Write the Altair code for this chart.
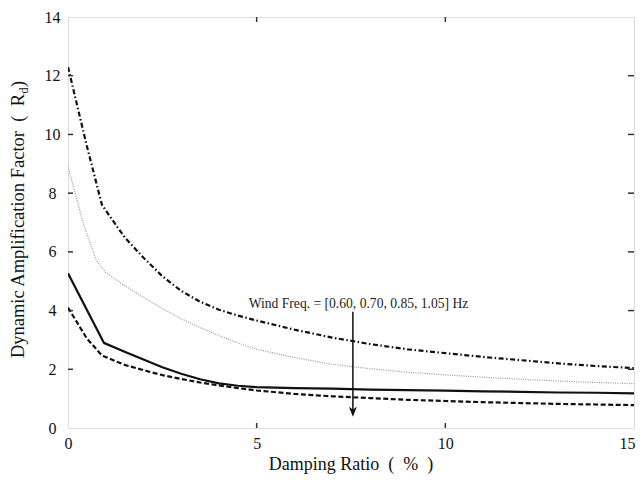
import altair as alt
import pandas as pd

# Damping ratio (%) and dynamic amplification factor for each wind frequency
x_060 = [0, 0.5, 0.9, 1.25, 1.5, 2, 2.5, 3, 3.5, 4, 4.5, 5, 6, 7, 8, 9, 10, 11, 12, 13, 14, 15]
y_060 = [12.3, 9.6, 7.6, 6.95, 6.5, 5.8, 5.17, 4.67, 4.3, 4.03, 3.83, 3.66, 3.35, 3.08, 2.86, 2.68, 2.55, 2.42, 2.31, 2.2, 2.11, 2.04]

x_070 = [0, 0.4, 0.75, 1, 1.5, 2, 2.5, 3, 3.5, 4, 4.5, 5, 6, 7, 8, 9, 10, 11, 12, 13, 14, 15]
y_070 = [8.9, 7.0, 5.7, 5.3, 4.85, 4.45, 4.07, 3.72, 3.42, 3.15, 2.9, 2.68, 2.4, 2.17, 2.02, 1.9, 1.81, 1.73, 1.66, 1.6, 1.55, 1.51]

x_085 = [0, 0.95, 1.5, 2, 2.5, 3, 3.5, 4, 4.5, 5, 6, 7, 8, 9, 10, 11, 12, 13, 14, 15]
y_085 = [5.27, 2.9, 2.6, 2.33, 2.07, 1.85, 1.66, 1.52, 1.44, 1.39, 1.36, 1.34, 1.31, 1.29, 1.27, 1.25, 1.23, 1.21, 1.2, 1.18]

x_105 = [0, 0.5, 0.9, 1.5, 2, 2.5, 3, 3.5, 4, 4.5, 5, 6, 7, 8, 9, 10, 11, 12, 13, 14, 15]
y_105 = [4.1, 3.05, 2.47, 2.15, 1.97, 1.8, 1.67, 1.55, 1.45, 1.36, 1.28, 1.16, 1.08, 1.02, 0.96, 0.92, 0.88, 0.85, 0.82, 0.8, 0.78]

x_ticks = [0, 5, 10, 15]
y_ticks = [0, 2, 4, 6, 8, 10, 12, 14]
x_inner_ticks = [5, 10]
y_inner_ticks = [2, 4, 6, 8, 10, 12]

annot_text = ["Wind Freq. = [0.60, 0.70, 0.85, 1.05] Hz"]
annot_x = [7.7]
annot_y = [4.09]
arrow_x = [7.55]
arrow_top = [3.96]
arrow_bottom = [0.55]

W, H = 566, 411
FONT = "Liberation Serif"

xs = alt.Scale(domain=[0, 15], nice=False, zero=False)
ys = alt.Scale(domain=[0, 14], nice=False, zero=False)


def curve(xv, yv, color, width, dash=None):
    df = pd.DataFrame({"x": xv, "y": yv})
    kw = dict(color=color, strokeWidth=width, clip=True, strokeJoin="round")
    if dash:
        kw["strokeDash"] = dash
    return alt.Chart(df).mark_line(**kw).encode(
        x=alt.X("x:Q", scale=xs, axis=alt.Axis(
            values=x_ticks, ticks=False, domain=False, grid=False,
            labelFont=FONT, labelFontSize=16, labelColor="#111",
            labelPadding=7, title=None, labelFlush=False,
            labelAlign={"condition": {"test": "datum.value == 15", "value": "right"}, "value": "center"},
            labelOffset={"condition": {"test": "datum.value == 15", "value": 1}, "value": 0})),
        y=alt.Y("y:Q", scale=ys, axis=alt.Axis(
            values=y_ticks, ticks=False, domain=False, grid=False,
            labelFont=FONT, labelFontSize=16, labelColor="#111",
            labelAlign="center", labelPadding=16, title=None, labelFlush=False)),
    )


l060 = curve(x_060, y_060, "#111", 2.2, [5, 2.5, 1.5, 2.5])
l070 = curve(x_070, y_070, "#999999", 1.2, [1, 1.3])
l085 = curve(x_085, y_085, "#111", 2.2)
l105 = curve(x_105, y_105, "#111", 2.2, [5, 2.5])

# inward ticks
tick_style = dict(color="#333", strokeWidth=1.5)
xt = pd.DataFrame({"x": x_inner_ticks})
yt = pd.DataFrame({"y": y_inner_ticks})
bt = alt.Chart(xt).mark_rule(**tick_style).encode(x=alt.X("x:Q", scale=xs), y=alt.value(H), y2=alt.value(H - 5))
tt = alt.Chart(xt).mark_rule(**tick_style).encode(x=alt.X("x:Q", scale=xs), y=alt.value(0), y2=alt.value(5))
lt = alt.Chart(yt).mark_rule(**tick_style).encode(y=alt.Y("y:Q", scale=ys), x=alt.value(0), x2=alt.value(5))
rt = alt.Chart(yt).mark_rule(**tick_style).encode(y=alt.Y("y:Q", scale=ys), x=alt.value(W), x2=alt.value(W - 6))

# annotation + arrow
adf = pd.DataFrame({"x": annot_x, "y": annot_y, "t": annot_text})
annot = alt.Chart(adf).mark_text(font=FONT, fontSize=13.6, color="#222", align="center",
                                 baseline="alphabetic").encode(
    x=alt.X("x:Q", scale=xs), y=alt.Y("y:Q", scale=ys), text="t:N")
arr = pd.DataFrame({"x": arrow_x, "y": arrow_top, "y2": arrow_bottom})
arrow_line = alt.Chart(arr).mark_rule(color="#111", strokeWidth=1.5).encode(
    x=alt.X("x:Q", scale=xs), y=alt.Y("y:Q", scale=ys), y2="y2:Q")
arrow_head = alt.Chart(arr).mark_point(shape="M0,1 L-0.8,-1 L0,-0.45 L0.8,-1 Z", filled=True,
                                       color="#111", opacity=1, size=100).encode(
    x=alt.X("x:Q", scale=xs), y=alt.Y("y2:Q", scale=ys))

# axis titles as text
dummy = pd.DataFrame({"a": [0]})
x_title = alt.Chart(dummy).mark_text(font=FONT, fontSize=18, color="#111", align="center",
                                     baseline="alphabetic",
                                     text="Damping Ratio\u2002(\u2002%\u2002)").encode(
    x=alt.value(W / 2), y=alt.value(H + 42))
P = 77
TX = -44
y_title_main = alt.Chart(dummy).mark_text(font=FONT, fontSize=18.5, color="#111", align="right",
                                          baseline="alphabetic", angle=270,
                                          text="Dynamic Amplification Factor\u2002(\u2002R").encode(
    x=alt.value(TX), y=alt.value(P))
y_title_sub = alt.Chart(dummy).mark_text(font=FONT, fontSize=12, color="#111", align="left",
                                         baseline="alphabetic", angle=270, dy=4, dx=0.5,
                                         text="d").encode(
    x=alt.value(TX), y=alt.value(P))
y_title_end = alt.Chart(dummy).mark_text(font=FONT, fontSize=18.5, color="#111", align="left",
                                         baseline="alphabetic", angle=270, dx=7,
                                         text="\u2002)").encode(
    x=alt.value(TX), y=alt.value(P))

chart = alt.layer(
    l070, l105, l085, l060, bt, tt, lt, rt, arrow_line, arrow_head, annot,
    x_title, y_title_main, y_title_sub, y_title_end
).properties(
    width=W, height=H,
    autosize=alt.AutoSizeParams(type="none"),
    padding={"left": 60, "top": 9, "right": 1, "bottom": 47},
).configure_view(stroke="#111", strokeWidth=1.6).configure(background="white")

chart.save("out.html", embed_options={"renderer": "svg", "actions": False})
